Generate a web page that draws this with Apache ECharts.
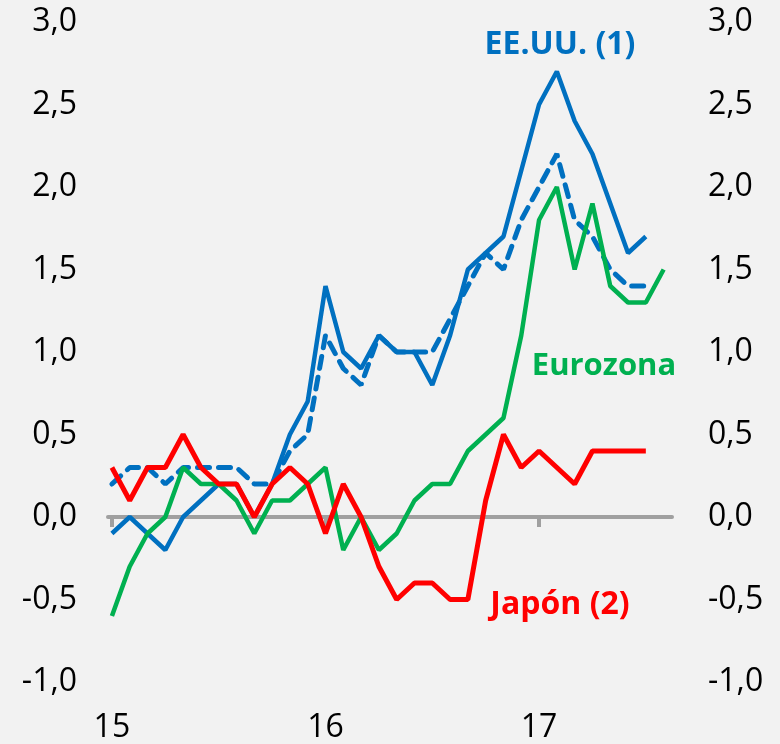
<!DOCTYPE html>
<html>
<head>
<meta charset="utf-8">
<script src="https://cdn.jsdelivr.net/npm/echarts@6/dist/echarts.min.js"></script>
<style>
html,body{margin:0;padding:0;background:#f2f2f2;}
#chart{width:780px;height:744px;}
</style>
</head>
<body>
<div id="chart"></div>
<script>
// Months: index 0 = Jan 2015 ... 31 = Aug 2017
var usHeadline = [-0.1, 0.0, -0.1, -0.2, 0.0, 0.1, 0.2, 0.2, 0.0, 0.2, 0.5, 0.7,
                  1.4, 1.0, 0.9, 1.1, 1.0, 1.0, 0.8, 1.1, 1.5, 1.6, 1.7, 2.1,
                  2.5, 2.7, 2.4, 2.2, 1.9, 1.6, 1.7];
var usDashed = [0.2, 0.3, 0.3, 0.2, 0.3, 0.3, 0.3, 0.3, 0.2, 0.2, 0.4, 0.5,
                1.1, 0.9, 0.8, 1.1, 1.0, 1.0, 1.0, 1.2, 1.4, 1.6, 1.5, 1.8,
                2.0, 2.2, 1.8, 1.7, 1.5, 1.4, 1.4];
var eurozone = [-0.6, -0.3, -0.1, 0.0, 0.3, 0.2, 0.2, 0.1, -0.1, 0.1, 0.1, 0.2,
                0.3, -0.2, 0.0, -0.2, -0.1, 0.1, 0.2, 0.2, 0.4, 0.5, 0.6, 1.1,
                1.8, 2.0, 1.5, 1.9, 1.4, 1.3, 1.3, 1.5];
var japan = [0.3, 0.1, 0.3, 0.3, 0.5, 0.3, 0.2, 0.2, 0.0, 0.2, 0.3, 0.2,
             -0.1, 0.2, 0.0, -0.3, -0.5, -0.4, -0.4, -0.5, -0.5, 0.1, 0.5, 0.3,
             0.4, 0.3, 0.2, 0.4, 0.4, 0.4, 0.4];
var xTickValues = [0, 12, 24];
var xTickLabels = ['15', '16', '17'];
var seriesNames = ['EE.UU. (1)', 'Eurozona', 'Japón (2)'];

function toPairs(arr) { return arr.map(function (v, i) { return [i, v]; }); }
function fmt(v) { return v.toFixed(1).replace('.', ','); }

var FONT = 'Open Sans';
var chart = echarts.init(document.getElementById('chart'), null, {renderer: 'canvas'});
var xMin = -0.22, xMax = 31.47;
chart.setOption({
  backgroundColor: '#f2f2f2',
  animation: false,
  grid: {left: 108, right: 108, top: 22, bottom: 62, containLabel: false, outerBoundsMode: 'none'},
  xAxis: [{
    type: 'value', min: xMin, max: xMax,
    axisLine: {show: true, onZero: true, lineStyle: {color: '#a0a0a0', width: 4}},
    axisTick: {show: true, customValues: xTickValues, length: 10, inside: false,
               lineStyle: {color: '#a0a0a0', width: 4}},
    axisLabel: {show: false},
    splitLine: {show: false}
  }, {
    type: 'value', min: xMin, max: xMax, position: 'bottom',
    axisLine: {show: false, onZero: false},
    axisTick: {show: false},
    axisLabel: {show: true, customValues: xTickValues, margin: 30,
                fontFamily: FONT, fontSize: 32, color: '#000',
                formatter: function (v) { return xTickLabels[xTickValues.indexOf(v)]; }},
    splitLine: {show: false}
  }],
  yAxis: [{
    type: 'value', min: -1, max: 3, interval: 0.5, position: 'left',
    axisLine: {show: false}, axisTick: {show: false}, splitLine: {show: false},
    axisLabel: {fontFamily: FONT, fontSize: 32, color: '#000', margin: 31, formatter: fmt}
  }, {
    type: 'value', min: -1, max: 3, interval: 0.5, position: 'right',
    axisLine: {show: false}, axisTick: {show: false}, splitLine: {show: false},
    axisLabel: {fontFamily: FONT, fontSize: 32, color: '#000', margin: 36, formatter: fmt}
  }],
  series: [{
    name: seriesNames[0] + ' dashed', type: 'line', data: toPairs(usDashed),
    showSymbol: false, symbol: 'none',
    lineStyle: {color: '#0070c0', width: 5, type: [12, 9], cap: 'round'}
  }, {
    name: seriesNames[0], type: 'line', data: toPairs(usHeadline),
    showSymbol: false, symbol: 'none',
    lineStyle: {color: '#0070c0', width: 4.5}
  }, {
    name: seriesNames[1], type: 'line', data: toPairs(eurozone),
    showSymbol: false, symbol: 'none',
    lineStyle: {color: '#00b050', width: 4.5}
  }, {
    name: seriesNames[2], type: 'line', data: toPairs(japan),
    showSymbol: false, symbol: 'none',
    lineStyle: {color: '#ff0000', width: 5}
  }],
  graphic: [{
    type: 'text', x: 560, y: 45,
    style: {text: seriesNames[0], fill: '#0070c0', font: 'bold 32px "Open Sans"', textAlign: 'center', textVerticalAlign: 'middle'}
  }, {
    type: 'text', x: 604, y: 366,
    style: {text: seriesNames[1], fill: '#00b050', font: 'bold 31px "Open Sans"', textAlign: 'center', textVerticalAlign: 'middle'}
  }, {
    type: 'text', x: 560, y: 605,
    style: {text: seriesNames[2], fill: '#ff0000', font: 'bold 32px "Open Sans"', textAlign: 'center', textVerticalAlign: 'middle'}
  }]
});
</script>
</body>
</html>
